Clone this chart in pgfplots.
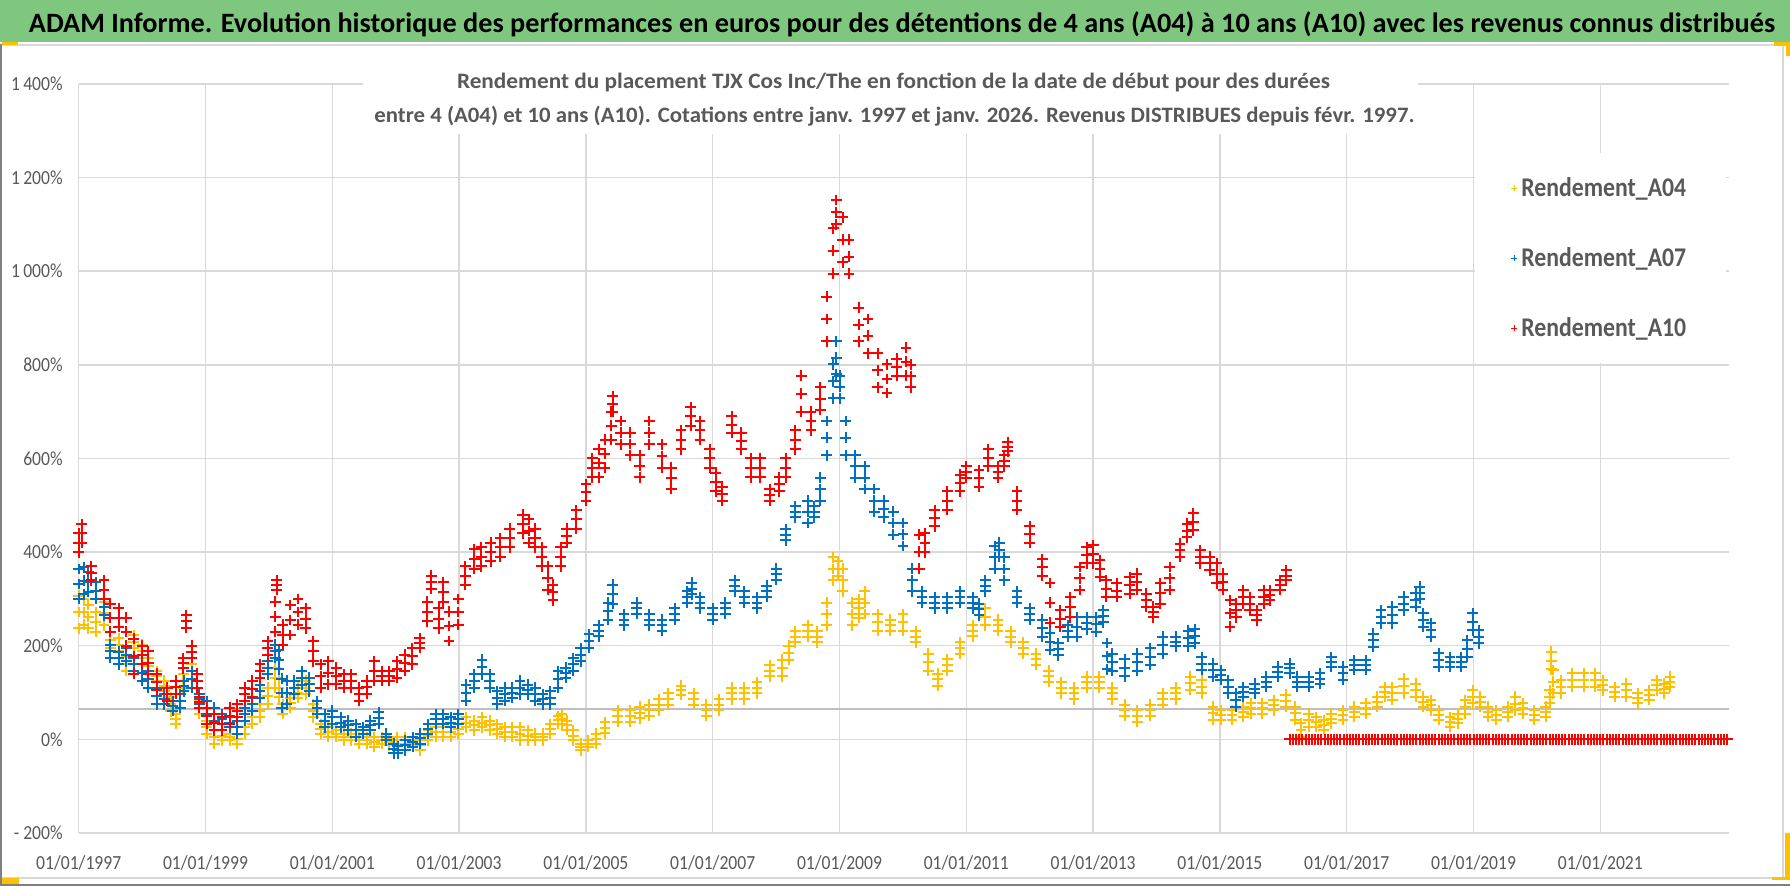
\documentclass[border=0pt]{standalone}
\usepackage{pgfplots}
\pgfplotsset{compat=1.18}
\usepackage{pgfplotstable}
\usepackage{fontspec}
\setmainfont{Carlito}[FakeStretch=0.88]
\definecolor{tgray}{HTML}{595959}
\definecolor{ggray}{HTML}{D9D9D9}
\definecolor{lgray}{HTML}{BFBFBF}
\definecolor{cy}{HTML}{FFC000}
\definecolor{cb}{HTML}{0070C0}
\definecolor{cr}{HTML}{FF0000}
\definecolor{gbar}{RGB}{127,199,127}
\pgfplotsset{ser/.style={only marks, mark=+, mark size=2.7pt, line width=1pt, color=#1}}

\pgfplotstableread{
t lo md hi
1997.00 237 272 307
1997.08 245 272 300
1997.15 237 262 287
1997.27 230 251 272
1997.40 244 269 294
1997.50 195 212 230
1997.63 188 202 216
1997.75 146 160 175
1997.87 195 209 223
1998.00 174 188 202
1998.10 139 156 174
1998.23 125 135 146
1998.35 103 114 125
1998.45 60 75 90
1998.53 33 43 54
1998.65 110 124 139
1998.78 146 160 174
1998.90 54 68 82
1999.02 12 26 40
1999.14 -9 5 19
1999.26 -2 8 19
1999.38 -2 5 12
1999.50 -9 1 12
1999.62 12 26 40
1999.74 33 47 61
1999.86 47 61 75
1999.98 75 92 110
2000.10 110 131 153
2000.16 90 110 130
2000.22 54 64 75
2000.34 68 78 89
2000.46 89 100 110
2000.58 96 110 125
2000.70 47 61 75
2000.82 12 22 33
2000.94 5 15 26
2001.06 5 12 19
2001.18 -2 5 12
2001.30 -2 5 12
2001.42 -9 -2 5
2001.54 -9 -2 5
2001.66 -16 -5 5
2001.78 -9 -2 5
2001.90 -13 -6 1
2002.02 -9 -2 5
2002.15 -9 -2 5
2002.27 -16 -9 -2
2002.39 -23 -12 -2
2002.51 -2 8 19
2002.63 5 15 26
2002.75 5 15 26
2002.87 5 15 26
2002.99 12 22 33
2003.11 26 36 47
2003.24 19 30 40
2003.36 26 36 47
2003.48 19 30 40
2003.60 12 22 33
2003.72 5 15 26
2003.84 5 15 26
2003.96 -2 12 26
2004.08 -2 8 19
2004.20 -2 5 12
2004.32 -2 5 12
2004.44 12 22 33
2004.56 33 41 50
2004.62 33 43 54
2004.70 20 30 40
2004.80 -2 8 19
2004.92 -23 -16 -9
2005.04 -16 -9 -2
2005.16 -9 1 12
2005.30 13 25 37
2005.50 38 50 62
2005.70 38 50 62
2005.85 45 57 70
2006.00 50 62 74
2006.15 62 74 86
2006.30 74 86 98
2006.50 95 105 115
2006.70 74 86 98
2006.90 50 62 74
2007.10 62 74 86
2007.30 86 98 110
2007.50 86 98 110
2007.70 98 110 122
2007.90 135 147 159
2008.10 135 152 170
2008.20 170 185 200
2008.30 207 219 231
2008.50 219 231 244
2008.65 207 219 231
2008.80 244 268 292
2008.90 340 364 389
2008.97 350 365 380
2009.05 316 340 365
2009.20 244 268 292
2009.30 260 280 300
2009.40 268 292 316
2009.60 232 250 268
2009.80 232 244 256
2010.00 232 250 268
2010.20 207 219 231
2010.40 147 165 183
2010.55 115 128 140
2010.70 147 159 171
2010.90 183 195 207
2011.10 220 232 244
2011.30 244 262 280
2011.50 232 244 256
2011.70 207 219 231
2011.90 183 195 207
2012.10 159 171 183
2012.30 123 135 147
2012.50 98 110 122
2012.70 86 98 110
2012.90 110 122 134
2013.10 110 122 134
2013.30 86 98 110
2013.50 50 62 74
2013.70 38 50 62
2013.90 50 62 74
2014.10 74 86 98
2014.30 86 98 110
2014.53 106 120 134
2014.71 98 112 127
2014.89 42 56 70
2015.01 42 52 62
2015.19 42 52 62
2015.37 48 59 70
2015.49 55 66 77
2015.67 55 66 77
2015.85 62 73 84
2016.04 70 82 95
2016.19 42 56 70
2016.28 6 20 34
2016.40 27 41 55
2016.52 27 37 48
2016.64 20 30 41
2016.76 34 44 55
2016.94 42 52 62
2017.12 48 59 70
2017.30 55 66 77
2017.48 70 80 91
2017.60 91 101 112
2017.72 84 98 112
2017.90 98 114 130
2018.09 91 105 119
2018.21 70 80 91
2018.33 62 73 84
2018.45 42 52 62
2018.63 27 37 48
2018.75 34 44 55
2018.87 55 70 84
2018.99 77 91 105
2019.11 70 80 91
2019.23 48 59 70
2019.36 42 52 62
2019.54 48 59 70
2019.66 62 76 91
2019.78 55 66 77
2019.96 42 52 62
2020.14 48 59 70
2020.20 77 91 105
2020.23 150 168 187
2020.26 98 123 148
2020.38 98 112 127
2020.56 112 126 141
2020.74 112 126 141
2020.92 112 126 141
2021.04 105 116 127
2021.23 91 101 112
2021.41 91 105 119
2021.59 77 88 98
2021.77 84 94 105
2021.89 105 116 127
2022.01 98 108 119
2022.10 112 123 134
}\yel

\pgfplotstableread{
t lo md hi
1997.00 300 332 364
1997.08 310 339 368
1997.15 315 336 357
1997.27 300 318 336
1997.40 265 282 300
1997.50 174 188 202
1997.63 160 174 187
1997.75 167 181 195
1997.87 146 160 174
1998.00 125 142 160
1998.10 110 128 146
1998.23 75 92 110
1998.35 75 86 96
1998.48 61 72 82
1998.60 68 82 96
1998.66 103 114 125
1998.78 110 128 146
1998.90 75 86 96
1999.02 54 68 82
1999.14 40 54 68
1999.26 33 44 54
1999.38 26 36 47
1999.50 12 26 40
1999.62 40 54 68
1999.74 61 75 89
1999.86 89 103 117
1999.98 139 153 167
2000.10 174 188 202
2000.16 150 170 190
2000.20 68 99 130
2000.28 75 100 125
2000.40 96 110 125
2000.52 117 132 146
2000.64 103 118 132
2000.76 54 68 82
2000.88 26 40 54
2001.00 33 47 61
2001.13 26 36 47
2001.25 19 30 40
2001.37 5 19 33
2001.49 12 19 26
2001.60 19 30 40
2001.73 33 46 58
2001.85 -2 5 12
2001.97 -30 -20 -9
2002.03 -30 -22 -15
2002.15 -23 -12 -2
2002.27 -16 -5 5
2002.39 -9 2 12
2002.51 12 22 33
2002.63 33 44 54
2002.75 33 44 54
2002.87 26 36 47
2002.99 33 44 54
2003.11 82 100 117
2003.24 110 124 139
2003.36 139 154 170
2003.48 110 124 139
2003.60 75 89 103
2003.72 82 96 110
2003.84 89 100 110
2003.96 96 110 125
2004.08 96 106 117
2004.20 82 96 110
2004.32 75 86 96
2004.44 75 89 103
2004.56 110 128 146
2004.68 132 142 153
2004.80 146 160 174
2004.92 167 181 195
2005.05 195 210 225
2005.20 220 232 244
2005.35 256 274 292
2005.42 290 310 330
2005.60 244 256 268
2005.80 268 280 292
2006.00 244 256 268
2006.20 232 244 256
2006.40 256 268 280
2006.60 292 304 316
2006.67 310 322 335
2006.80 280 292 304
2007.00 256 268 280
2007.20 268 280 292
2007.35 316 328 340
2007.50 292 304 316
2007.70 280 292 304
2007.85 304 316 328
2008.00 341 353 365
2008.15 425 437 449
2008.30 474 486 498
2008.50 462 486 510
2008.60 474 486 498
2008.70 510 534 559
2008.80 607 644 680
2008.90 729 765 801
2008.95 780 815 850
2009.00 729 753 777
2009.10 607 644 680
2009.25 559 583 607
2009.40 535 559 583
2009.55 486 510 535
2009.70 474 492 510
2009.85 437 462 486
2010.00 413 438 462
2010.15 316 340 365
2010.30 292 304 316
2010.50 280 292 304
2010.70 280 292 304
2010.90 292 304 316
2011.10 280 292 304
2011.20 265 278 290
2011.30 316 328 340
2011.45 365 389 413
2011.52 390 405 420
2011.60 340 364 389
2011.80 292 304 316
2012.00 256 268 280
2012.20 219 238 256
2012.32 191 209 227
2012.45 180 192 205
2012.60 219 232 244
2012.74 219 240 261
2012.90 235 248 261
2013.05 230 246 261
2013.16 250 263 276
2013.22 150 178 206
2013.30 147 165 183
2013.50 135 153 171
2013.70 147 165 183
2013.90 159 177 195
2014.10 183 201 219
2014.30 199 209 219
2014.50 199 216 232
2014.60 205 220 235
2014.71 148 162 176
2014.89 134 148 162
2015.01 127 138 148
2015.13 98 112 127
2015.25 70 84 98
2015.37 91 102 112
2015.55 98 108 119
2015.73 112 123 134
2015.91 134 144 155
2016.10 141 152 162
2016.22 112 123 134
2016.40 112 123 134
2016.58 119 130 141
2016.76 155 166 176
2016.94 127 141 155
2017.12 148 158 169
2017.30 148 158 169
2017.42 198 212 226
2017.54 248 262 276
2017.72 248 266 283
2017.90 276 290 305
2018.09 283 298 312
2018.15 300 313 326
2018.21 241 255 269
2018.33 219 234 248
2018.45 155 170 184
2018.63 155 166 176
2018.81 155 166 176
2018.90 176 194 212
2018.99 233 251 269
2019.08 205 219 233
}\blu

\pgfplotstableread{
t lo md hi
1997.00 400 420 440
1997.05 420 440 460
1997.20 340 355 370
1997.40 300 320 340
1997.50 230 260 290
1997.63 240 260 280
1997.75 200 230 260
1997.87 140 178 215
1998.00 160 180 200
1998.10 140 164 188
1998.23 105 122 140
1998.40 83 96 110
1998.53 97 111 125
1998.65 152 163 174
1998.70 238 252 265
1998.78 174 187 200
1998.87 110 125 140
1998.90 68 79 90
1999.02 33 50 68
1999.14 19 36 54
1999.26 19 33 47
1999.38 33 50 68
1999.50 47 61 75
1999.62 82 96 110
1999.74 90 108 125
1999.86 132 146 160
1999.98 180 195 210
2000.10 230 262 294
2000.12 320 330 340
2000.22 202 224 245
2000.34 223 255 287
2000.46 245 272 300
2000.58 237 258 280
2000.70 167 188 210
2000.82 110 135 160
2000.94 118 142 167
2001.06 118 136 153
2001.18 110 124 139
2001.30 110 124 139
2001.42 82 96 110
2001.54 97 111 125
2001.66 125 146 167
2001.78 125 136 146
2001.90 125 136 146
2002.02 132 150 167
2002.14 146 164 181
2002.26 160 178 195
2002.38 195 206 216
2002.50 252 273 294
2002.56 322 336 350
2002.68 237 258 280
2002.75 294 315 336
2002.84 210 242 273
2002.99 245 272 300
2003.10 330 350 370
2003.24 364 385 406
2003.35 370 390 410
2003.50 380 400 420
2003.65 390 410 430
2003.80 410 430 450
2004.00 440 460 480
2004.10 420 445 470
2004.20 410 430 450
2004.30 370 390 410
2004.40 320 345 370
2004.48 297 314 330
2004.60 370 390 410
2004.70 420 435 450
2004.85 450 470 490
2005.00 510 528 545
2005.10 560 580 600
2005.20 560 590 620
2005.30 580 610 640
2005.40 640 670 700
2005.42 700 716 733
2005.55 630 655 680
2005.70 607 631 655
2005.85 560 584 607
2006.00 630 655 680
2006.20 580 605 630
2006.35 535 558 580
2006.50 620 640 660
2006.65 670 690 709
2006.80 640 660 680
2006.95 580 600 620
2007.05 530 550 570
2007.15 510 525 540
2007.30 655 672 690
2007.45 620 638 655
2007.60 560 580 600
2007.75 560 580 600
2007.90 510 522 535
2008.05 530 545 560
2008.15 560 580 600
2008.30 620 640 660
2008.40 700 738 777
2008.55 660 680 700
2008.70 704 728 752
2008.80 850 898 946
2008.90 995 1044 1092
2008.95 1100 1126 1152
2009.05 1019 1067 1115
2009.15 995 1031 1067
2009.30 850 886 922
2009.45 825 862 898
2009.60 752 788 825
2009.75 740 770 801
2009.90 777 795 813
2010.05 777 807 837
2010.12 752 776 800
2010.26 365 401 437
2010.35 400 420 440
2010.50 455 472 490
2010.70 490 510 530
2010.90 530 548 565
2011.00 559 571 583
2011.20 540 558 575
2011.35 583 602 620
2011.50 559 571 583
2011.60 583 595 607
2011.65 615 625 635
2011.80 490 510 530
2012.00 420 438 455
2012.20 350 368 385
2012.32 249 292 334
2012.48 240 258 276
2012.64 261 282 304
2012.79 319 344 368
2012.90 376 394 411
2013.00 376 396 415
2013.11 347 365 383
2013.21 304 322 340
2013.37 304 318 333
2013.58 311 329 347
2013.69 319 336 354
2013.84 283 297 311
2013.95 261 272 283
2014.06 290 312 333
2014.21 319 344 368
2014.37 390 404 418
2014.48 432 446 461
2014.58 447 465 483
2014.69 376 390 404
2014.84 361 376 390
2014.95 333 354 376
2015.05 319 336 354
2015.16 241 269 297
2015.26 261 276 290
2015.37 290 304 319
2015.47 276 290 304
2015.58 254 265 276
2015.69 290 304 319
2015.79 297 308 319
2015.95 319 330 340
2016.05 340 350 361
}\red

\begin{document}
\begin{tikzpicture}
\useasboundingbox (0,0) rectangle (895pt,-443pt);
\fill[white] (0,0) rectangle (895pt,-443pt);
\begin{axis}[
  at={(39.35pt,-416.5pt)}, anchor=south west,
  scale only axis, width=825.15pt, height=374.5pt,
  xmin=1997, xmax=2023.03, ymin=-200, ymax=1400,
  axis x line*=bottom, axis y line*=left,
  axis line style={draw=none},
  major tick length=0pt,
  grid=major, major grid style={draw=ggray, line width=0.75pt},
  clip=false,
  xtick={1997,1999,...,2021},
  xticklabels={01/01/1997,01/01/1999,01/01/2001,01/01/2003,01/01/2005,01/01/2007,01/01/2009,01/01/2011,01/01/2013,01/01/2015,01/01/2017,01/01/2019,01/01/2021},
  ytick={-200,0,...,1400},
  yticklabels={{-\hspace{0.2em}200\%},{0\%},{200\%},{400\%},{600\%},{800\%},{1\,000\%},{1\,200\%},{1\,400\%}},
  xticklabel style={font=\fontsize{10}{12}\selectfont, text=tgray, anchor=north, inner sep=0pt, yshift=-11pt},
  yticklabel style={font=\fontsize{10}{12}\selectfont, text=tgray, anchor=east, inner sep=0pt, xshift=-7.85pt},
  legend style={at={(0.8461,0.9079)}, anchor=north west, fill=white, draw=none,
     font=\fontsize{13.5}{16}\selectfont\bfseries, text=tgray,
     inner xsep=18pt, inner ysep=10pt, row sep=20pt},
  legend cell align=left,
  legend image code/.code={\draw[#1, mark size=1.5pt, line width=0.5pt] plot coordinates {(0pt,0pt)};},
]
\addplot[forget plot, color=lgray, line width=0.75pt] coordinates {(1997,65) (2023.03,65)};
\addplot[ser=cy] table[x=t,y=md]{\yel};
\addlegendentry{Rendement\_A04}
\addplot[ser=cy, forget plot] table[x=t,y=lo]{\yel};
\addplot[ser=cy, forget plot] table[x=t,y=hi]{\yel};
\addplot[ser=cb] table[x=t,y=md]{\blu};
\addlegendentry{Rendement\_A07}
\addplot[ser=cb, forget plot] table[x=t,y=lo]{\blu};
\addplot[ser=cb, forget plot] table[x=t,y=hi]{\blu};
\addplot[ser=cr] table[x=t,y=md]{\red};
\addlegendentry{Rendement\_A10}
\addplot[ser=cr, forget plot] table[x=t,y=lo]{\red};
\addplot[ser=cr, forget plot] table[x=t,y=hi]{\red};
\addplot[ser=cr, forget plot] coordinates {
(2016.10,0) (2016.15,0) (2016.20,0) (2016.25,0) (2016.30,0) (2016.35,0) (2016.40,0) (2016.45,0) (2016.50,0) (2016.55,0)
(2016.60,0) (2016.65,0) (2016.70,0) (2016.75,0) (2016.80,0) (2016.85,0) (2016.90,0) (2016.95,0) (2017.00,0) (2017.05,0)
(2017.10,0) (2017.15,0) (2017.20,0) (2017.25,0) (2017.30,0) (2017.35,0) (2017.40,0) (2017.45,0) (2017.50,0) (2017.55,0)
(2017.60,0) (2017.65,0) (2017.70,0) (2017.75,0) (2017.80,0) (2017.85,0) (2017.90,0) (2017.95,0) (2018.00,0) (2018.05,0)
(2018.10,0) (2018.15,0) (2018.20,0) (2018.25,0) (2018.30,0) (2018.35,0) (2018.40,0) (2018.45,0) (2018.50,0) (2018.55,0)
(2018.60,0) (2018.65,0) (2018.70,0) (2018.75,0) (2018.80,0) (2018.85,0) (2018.90,0) (2018.95,0) (2019.00,0) (2019.05,0)
(2019.10,0) (2019.15,0) (2019.20,0) (2019.25,0) (2019.30,0) (2019.35,0) (2019.40,0) (2019.45,0) (2019.50,0) (2019.55,0)
(2019.60,0) (2019.65,0) (2019.70,0) (2019.75,0) (2019.80,0) (2019.85,0) (2019.90,0) (2019.95,0) (2020.00,0) (2020.05,0)
(2020.10,0) (2020.15,0) (2020.20,0) (2020.25,0) (2020.30,0) (2020.35,0) (2020.40,0) (2020.45,0) (2020.50,0) (2020.55,0)
(2020.60,0) (2020.65,0) (2020.70,0) (2020.75,0) (2020.80,0) (2020.85,0) (2020.90,0) (2020.95,0) (2021.00,0) (2021.05,0)
(2021.10,0) (2021.15,0) (2021.20,0) (2021.25,0) (2021.30,0) (2021.35,0) (2021.40,0) (2021.45,0) (2021.50,0) (2021.55,0)
(2021.60,0) (2021.65,0) (2021.70,0) (2021.75,0) (2021.80,0) (2021.85,0) (2021.90,0) (2021.95,0) (2022.00,0) (2022.05,0)
(2022.10,0) (2022.15,0) (2022.20,0) (2022.25,0) (2022.30,0) (2022.35,0) (2022.40,0) (2022.45,0) (2022.50,0) (2022.55,0)
(2022.60,0) (2022.65,0) (2022.70,0) (2022.75,0) (2022.80,0) (2022.85,0) (2022.90,0) (2022.95,0) (2023.00,0)
};
\end{axis}
% title bar
\fill[gbar] (0,0) rectangle (895pt,-21pt);
\node[anchor=base, inner sep=0pt] at (451pt,-16.5pt) {\resizebox{873pt}{\height}{\fontsize{14}{16}\selectfont\bfseries ADAM Informe. Evolution historique des performances en euros pour des détentions de 4 ans (A04) à 10 ans (A10) avec les revenus connus distribués}};
% subtitle
\fill[white] (181.5pt,-30pt) rectangle (709pt,-67pt);
\node[anchor=base, inner sep=0pt, text=tgray] at (446.75pt,-44.5pt) {\resizebox{436.5pt}{\height}{\fontsize{11}{13}\selectfont\bfseries Rendement du placement TJX Cos Inc/The en fonction de la date de début pour des durées}};
\node[anchor=base, inner sep=0pt, text=tgray] at (447.25pt,-61.5pt) {\resizebox{520pt}{\height}{\fontsize{11}{13}\selectfont\bfseries entre 4 (A04) et 10 ans (A10). Cotations entre janv. 1997 et janv. 2026. Revenus DISTRIBUES depuis févr. 1997.}};
% frame
\draw[ggray, line width=1pt] (0,-22.5pt) -- (895pt,-22.5pt);
\draw[ggray, line width=1pt] (0,-439pt) -- (891.5pt,-439pt);
\draw[ggray, line width=1pt] (891.5pt,-22.5pt) -- (891.5pt,-439pt);
\draw[gray, line width=1pt] (0.5pt,-22pt) -- (0.5pt,-443pt);
\draw[gray, line width=1pt] (0,-442.5pt) -- (895pt,-442.5pt);
\fill[cy] (1pt,-21pt) rectangle (9pt,-22.5pt);
\fill[cy] (1pt,-439pt) rectangle (9.5pt,-442pt);
\fill[cy] (892.5pt,-416.5pt) rectangle (895pt,-440pt);
\fill[cy] (886pt,-438.5pt) rectangle (895pt,-440pt);
\fill[cy] (887pt,-21pt) rectangle (895pt,-23pt);
\fill[cy] (893pt,-21pt) rectangle (895pt,-28pt);
\end{tikzpicture}
\end{document}
